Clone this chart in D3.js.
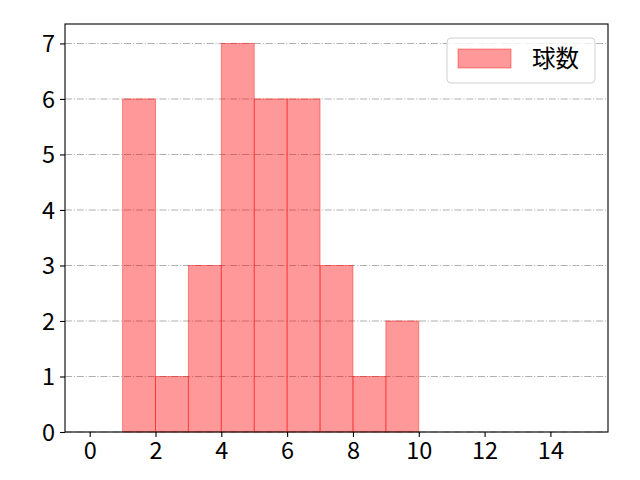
<!DOCTYPE html>
<html>
<head>
<meta charset="utf-8">
<script src="https://cdn.jsdelivr.net/npm/d3@7"></script>
<style>
  body { margin: 0; background: #fff; }
  svg text { font-family: "Noto Sans CJK JP", "Noto Sans", sans-serif; fill: #000; }
  .grid line { stroke: #b0b0b0; stroke-width: 1.1; stroke-dasharray: 7.1,1.8,1.1,1.8; }
</style>
</head>
<body>
<div id="chart"></div>
<script>
// histogram bins (left edge, right edge) and counts
var binStarts = [1, 2, 3, 4, 5, 6, 7, 8, 9];
var binEnds = [2, 3, 4, 5, 6, 7, 8, 9, 10];
var counts = [6, 1, 3, 7, 6, 6, 3, 1, 2];
var xTicks = [0, 2, 4, 6, 8, 10, 12, 14];
var yTicks = [0, 1, 2, 3, 4, 5, 6, 7];
var seriesName = "球数";

function init() {
    var w = 640, h = 480;
    var left = 65, right = 608, top = 24, bottom = 432;

    var xScale = d3.scaleLinear().domain([-0.75, 15.75]).range([left, right]);
    var yScale = d3.scaleLinear().domain([0, 7.35]).range([bottom, top]);

    var svg = d3.select("#chart").append("svg")
        .attr("width", w).attr("height", h);

    // horizontal grid
    svg.append("g")
        .attr("class", "grid")
        .selectAll("line")
        .data(yTicks)
        .enter().append("line")
        .attr("x1", left).attr("x2", right)
        .attr("y1", function(d) { return yScale(d); })
        .attr("y2", function(d) { return yScale(d); });

    var data = counts.map(function(c, i) { return {x0: binStarts[i], x1: binEnds[i], n: c}; });

    svg.append("g")
        .selectAll("rect")
        .data(data)
        .enter().append("rect")
        .attr("x", function(d) { return xScale(d.x0); })
        .attr("y", function(d) { return yScale(d.n); })
        .attr("width", function(d) { return xScale(d.x1) - xScale(d.x0); })
        .attr("height", function(d) { return yScale(0) - yScale(d.n); })
        .attr("fill", "red").attr("fill-opacity", 0.4)
        .attr("stroke", "red").attr("stroke-opacity", 0.4)
        .attr("stroke-width", 1);

    var xAxis = d3.axisBottom(xScale).tickValues(xTicks).tickSize(5).tickPadding(5).tickSizeOuter(0);
    var yAxis = d3.axisLeft(yScale).tickValues(yTicks).tickSize(5).tickPadding(5).tickSizeOuter(0);

    var gx = svg.append("g")
        .attr("transform", "translate(0," + bottom + ")")
        .call(xAxis);
    var gy = svg.append("g")
        .attr("transform", "translate(" + left + ",0)")
        .call(yAxis);

    [gx, gy].forEach(function(g) {
        g.select(".domain").remove();
        g.selectAll(".tick line").attr("stroke", "#000").attr("stroke-width", 1.1);
        g.selectAll(".tick text").attr("font-size", 23.5).attr("fill", "#000");
    });
    gx.selectAll(".tick text").attr("dy", "0.72em");
    gy.selectAll(".tick text").attr("dy", "0.36em");

    // frame
    svg.append("rect")
        .attr("x", left).attr("y", top)
        .attr("width", right - left).attr("height", bottom - top)
        .attr("fill", "none").attr("stroke", "#000").attr("stroke-width", 1.1);

    // legend
    var lg = svg.append("g");
    lg.append("rect")
        .attr("x", 447).attr("y", 38).attr("width", 148).attr("height", 45)
        .attr("rx", 4).attr("fill", "#fff").attr("fill-opacity", 0.8)
        .attr("stroke", "#d0d0d0").attr("stroke-width", 1);
    lg.append("rect")
        .attr("x", 458).attr("y", 49).attr("width", 53).attr("height", 19)
        .attr("fill", "red").attr("fill-opacity", 0.4)
        .attr("stroke", "red").attr("stroke-opacity", 0.4);
    lg.append("text")
        .attr("x", 532).attr("y", 59).attr("dy", "0.36em")
        .attr("font-size", 23.5)
        .text(seriesName);
}
window.onload = init;
</script>
</body>
</html>
